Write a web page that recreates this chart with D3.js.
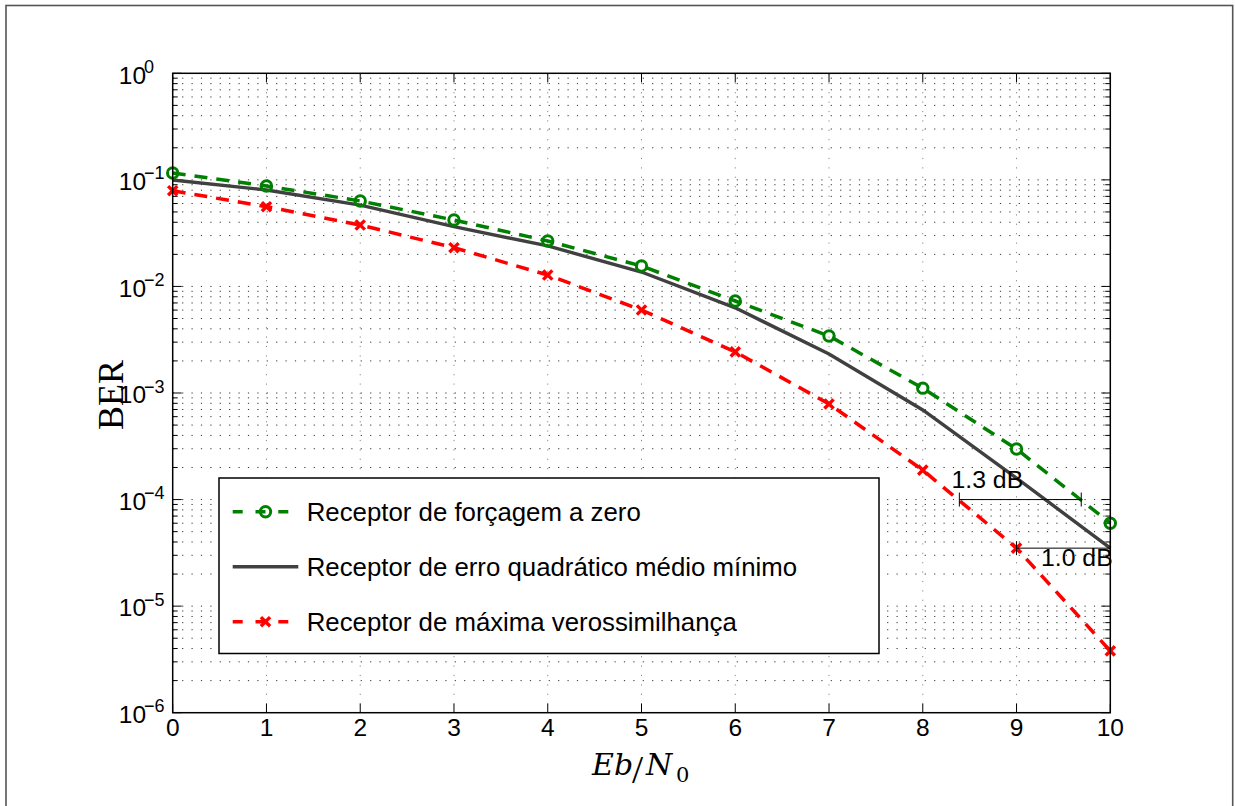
<!DOCTYPE html>
<html>
<head>
<meta charset="utf-8">
<script src="https://cdn.jsdelivr.net/npm/d3@7"></script>
<style>
  html, body { margin: 0; padding: 0; background: #fff; }
  svg { display: block; }
</style>
</head>
<body>
<svg id="chart" width="1235" height="806"></svg>
<script>
// Eb/N0 axis (dB)
const ebn0 = [0, 1, 2, 3, 4, 5, 6, 7, 8, 9, 10];
// Bit error rate of each receiver
const berZF   = [0.116, 0.0876, 0.0634, 0.042, 0.0267, 0.01555, 0.0073, 0.00343, 0.00111, 0.000298, 6.0e-5];
const berMMSE = [0.0997, 0.0804, 0.058, 0.0364, 0.0240, 0.01365, 0.0063, 0.00232, 0.000693, 0.000159, 3.5e-5];
const berML   = [0.0791, 0.056, 0.0377, 0.0231, 0.0128, 0.00601, 0.00243, 0.000789, 0.000189, 3.5e-5, 3.8e-6];

const seriesNames = [
  "Receptor de forçagem a zero",
  "Receptor de erro quadrático médio mínimo",
  "Receptor de máxima verossimilhança"
];

const xTickValues = [0, 1, 2, 3, 4, 5, 6, 7, 8, 9, 10];
const yTickExponents = [0, -1, -2, -3, -4, -5, -6];

// SNR gap annotations: label, start dB, end dB, BER level
const gapLabels = ["1.3 dB", "1.0 dB"];
const gapStart  = [8.39, 9];
const gapEnd    = [9.69, 10];
const gapLevel  = [1e-4, 3.5e-5];

const svg = d3.select("#chart");
const plot = { left: 172.7, right: 1110.3, top: 73.3, bottom: 712.7 };

const x = d3.scaleLinear().domain([0, 10]).range([plot.left, plot.right]);
const y = d3.scaleLog().domain([1e-6, 1]).range([plot.bottom, plot.top]);

const sans = "'Liberation Sans', Arial, Helvetica, sans-serif";
const serif = "'Liberation Serif', 'Times New Roman', serif";
const mathSerif = "'DejaVu Serif', serif";

// figure frame
svg.append("rect")
  .attr("x", 6).attr("y", 5.5)
  .attr("width", 1226.7).attr("height", 820)
  .attr("fill", "none").attr("stroke", "#555").attr("stroke-width", 1.6);

// major / minor y values
const yMajor = yTickExponents.map(e => Math.pow(10, e));
const yMinor = [];
for (let e = -6; e < 0; e++) {
  for (let m = 2; m <= 9; m++) yMinor.push(m * Math.pow(10, e));
}

// dotted grid
const grid = svg.append("g");
grid.selectAll("line.hg")
  .data(yMajor.concat(yMinor).filter(v => v < 1 && v > 1e-6))
  .join("line")
  .attr("x1", plot.left).attr("x2", plot.right)
  .attr("y1", d => y(d)).attr("y2", d => y(d))
  .attr("stroke", "#333").attr("stroke-width", 1)
  .attr("stroke-dasharray", "1.2,8.2");
grid.selectAll("line.vg")
  .data(xTickValues.filter(v => v > 0 && v < 10))
  .join("line")
  .attr("x1", d => x(d)).attr("x2", d => x(d))
  .attr("y1", plot.top).attr("y2", plot.bottom)
  .attr("stroke", "#888").attr("stroke-width", 1)
  .attr("stroke-dasharray", "1.2,8.2");

// tick marks on all four sides
const ticks = svg.append("g").attr("stroke", "#000").attr("stroke-width", 1);
xTickValues.forEach(v => {
  ticks.append("line").attr("x1", x(v)).attr("x2", x(v)).attr("y1", plot.bottom).attr("y2", plot.bottom - 9);
  ticks.append("line").attr("x1", x(v)).attr("x2", x(v)).attr("y1", plot.top).attr("y2", plot.top + 9);
});
yMajor.forEach(v => {
  ticks.append("line").attr("x1", plot.left).attr("x2", plot.left + 9).attr("y1", y(v)).attr("y2", y(v));
  ticks.append("line").attr("x1", plot.right).attr("x2", plot.right - 9).attr("y1", y(v)).attr("y2", y(v));
});
yMinor.forEach(v => {
  ticks.append("line").attr("x1", plot.left).attr("x2", plot.left + 5).attr("y1", y(v)).attr("y2", y(v));
  ticks.append("line").attr("x1", plot.right).attr("x2", plot.right - 5).attr("y1", y(v)).attr("y2", y(v));
});

// x tick labels
svg.append("g").selectAll("text")
  .data(xTickValues)
  .join("text")
  .attr("x", d => x(d)).attr("y", plot.bottom + 23)
  .attr("text-anchor", "middle")
  .attr("font-family", sans).attr("font-size", 24.5)
  .text(d => d);

// y tick labels as 10^e
const yl = svg.append("g").attr("font-family", sans);
yTickExponents.forEach(e => {
  const ty = y(Math.pow(10, e));
  const t = yl.append("text").attr("x", 118.8).attr("y", ty + 10.2).attr("font-size", 24.5);
  t.append("tspan").text("10");
  t.append("tspan").attr("x", 144).attr("y", ty - 0.5).attr("font-size", 18)
    .text(e === 0 ? "0" : "\u2212" + Math.abs(e));
});

// series lines
const line = d3.line().x((d, i) => x(ebn0[i])).y(d => y(d));
const dashed = "13,9";

svg.append("path").datum(berZF).attr("d", line)
  .attr("fill", "none").attr("stroke", "#008000").attr("stroke-width", 3.5)
  .attr("stroke-dasharray", dashed);
svg.append("path").datum(berMMSE).attr("d", line)
  .attr("fill", "none").attr("stroke", "#404040").attr("stroke-width", 3.4);
svg.append("path").datum(berML).attr("d", line)
  .attr("fill", "none").attr("stroke", "#ff0000").attr("stroke-width", 3.5)
  .attr("stroke-dasharray", dashed);

// markers
function circleMarker(g, cx, cy) {
  g.append("circle").attr("cx", cx).attr("cy", cy).attr("r", 5.2)
    .attr("fill", "none").attr("stroke", "#008000").attr("stroke-width", 3);
}
function crossMarker(g, cx, cy) {
  const s = 4.6;
  g.append("path")
    .attr("d", `M${cx - s},${cy - s}L${cx + s},${cy + s}M${cx - s},${cy + s}L${cx + s},${cy - s}`)
    .attr("stroke", "#ff0000").attr("stroke-width", 3.4).attr("fill", "none");
}
const mk = svg.append("g");
berZF.forEach((v, i) => circleMarker(mk, x(ebn0[i]), y(v)));
berML.forEach((v, i) => crossMarker(mk, x(ebn0[i]), y(v)));

// plot box
svg.append("rect")
  .attr("x", plot.left).attr("y", plot.top)
  .attr("width", plot.right - plot.left).attr("height", plot.bottom - plot.top)
  .attr("fill", "none").attr("stroke", "#000").attr("stroke-width", 1.5);

// gap annotations
const ann = svg.append("g");
gapLabels.forEach((lab, i) => {
  const x0 = x(gapStart[i]), x1 = x(gapEnd[i]), yy = y(gapLevel[i]);
  ann.append("line").attr("x1", x0).attr("x2", x1).attr("y1", yy).attr("y2", yy)
    .attr("stroke", "#000").attr("stroke-width", 1);
  ann.append("line").attr("x1", x0).attr("x2", x0).attr("y1", yy - 7).attr("y2", yy + 7)
    .attr("stroke", "#000").attr("stroke-width", 1);
  ann.append("line").attr("x1", x1).attr("x2", x1).attr("y1", yy - 7).attr("y2", yy + 7)
    .attr("stroke", "#000").attr("stroke-width", 1);
});
ann.append("text").attr("x", 951.5).attr("y", 488).attr("font-family", sans).attr("font-size", 24.8).text(gapLabels[0]);
ann.append("text").attr("x", 1041).attr("y", 566).attr("font-family", sans).attr("font-size", 24.8).text(gapLabels[1]);

// legend
const lg = svg.append("g");
lg.append("rect").attr("x", 219).attr("y", 478).attr("width", 660).attr("height", 175.5)
  .attr("fill", "#fff").attr("stroke", "#000").attr("stroke-width", 1.5);
const legendY = [511.7, 566.7, 621.7];
const legendColors = ["#008000", "#404040", "#ff0000"];
legendY.forEach((ly, i) => {
  const l = lg.append("line").attr("x1", 232.7).attr("x2", 298.3).attr("y1", ly).attr("y2", ly)
    .attr("stroke", legendColors[i]).attr("stroke-width", 3.4);
  if (i !== 1) l.attr("stroke-dasharray", "10,12.8,10,12.8,10");
  if (i === 0) circleMarker(lg, 265.5, ly);
  if (i === 2) crossMarker(lg, 265.5, ly);
  lg.append("text").attr("x", 306.7).attr("y", ly + 9)
    .attr("font-family", sans).attr("font-size", 25.8).text(seriesNames[i]);
});

// x axis label: Eb/N0
const xl = svg.append("text").attr("y", 775).attr("font-family", mathSerif).attr("font-size", 30);
xl.append("tspan").attr("x", 592).attr("font-style", "italic").text("E");
xl.append("tspan").attr("x", 614).attr("font-style", "italic").text("b");
xl.append("tspan").attr("x", 632).attr("y", 783).attr("font-size", 40).attr("font-family", serif).text("/");
xl.append("tspan").attr("x", 646).attr("y", 775).attr("font-style", "italic").text("N");
xl.append("tspan").attr("x", 676).attr("y", 781.5).attr("font-size", 21).text("0");

// y axis label
svg.append("text")
  .attr("transform", "translate(123,395) rotate(-90)")
  .attr("text-anchor", "middle")
  .attr("font-family", serif).attr("font-size", 36)
  .text("BER");
</script>
</body>
</html>
